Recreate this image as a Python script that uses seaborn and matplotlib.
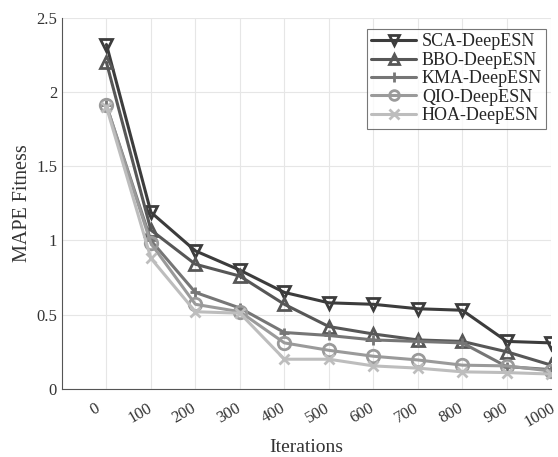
import numpy as np
import pandas as pd
import matplotlib
matplotlib.use("Agg")
import matplotlib.pyplot as plt
import matplotlib.transforms as mtransforms
import seaborn as sns

iterations = [0, 100, 200, 300, 400, 500, 600, 700, 800, 900, 1000]
x_labels = [str(v) for v in iterations]
series_names = ["SCA-DeepESN", "BBO-DeepESN", "KMA-DeepESN", "QIO-DeepESN", "HOA-DeepESN"]
sca = [2.32, 1.19, 0.93, 0.80, 0.65, 0.58, 0.57, 0.54, 0.53, 0.32, 0.31]
bbo = [2.20, 1.07, 0.84, 0.76, 0.57, 0.42, 0.37, 0.33, 0.32, 0.25, 0.16]
kma = [1.91, 1.00, 0.65, 0.545, 0.38, 0.36, 0.33, 0.32, 0.31, 0.15, 0.13]
qio = [1.91, 0.98, 0.57, 0.52, 0.31, 0.26, 0.22, 0.195, 0.16, 0.155, 0.12]
hoa = [1.90, 0.88, 0.52, 0.51, 0.20, 0.20, 0.155, 0.14, 0.115, 0.11, 0.10]

values = [sca, bbo, kma, qio, hoa]
colors = ["#3c3c3c", "#575757", "#767676", "#9a9a9a", "#bdbdbd"]
markers = ["v", "^", "+", "o", "x"]

df = pd.concat([
    pd.DataFrame({"Iterations": iterations, "MAPE": v, "Algorithm": n})
    for n, v in zip(series_names, values)
], ignore_index=True)

sns.set_theme(style="white")
plt.rcParams["font.family"] = ["Liberation Serif", "DejaVu Serif"]

fig = plt.figure(figsize=(5.58, 4.57), dpi=100)
ax = fig.add_axes([0.111, 0.149, 0.877, 0.812])

for name, c, m in zip(series_names, colors, markers):
    sub = df[df["Algorithm"] == name]
    sns.lineplot(data=sub, x="Iterations", y="MAPE", ax=ax, color=c, lw=2.2,
                 marker=m, markersize=9 if m not in ("+", "x") else 7,
                 markerfacecolor="none", markeredgecolor=c, markeredgewidth=2,
                 label=name)

ax.set_xlim(-100, 1000)
ax.set_ylim(0, 2.5)
ax.set_xticks(iterations)
ax.set_xticklabels(x_labels, rotation=30, fontsize=12)
ax.set_yticks([0, 0.5, 1, 1.5, 2, 2.5])
ax.set_yticklabels(["0", "0.5", "1", "1.5", "2", "2.5"], fontsize=12)
ax.tick_params(axis="x", pad=8, length=4, direction="in", color="#444444", colors="#333333")
ax.tick_params(axis="y", length=4, direction="in", color="#444444", colors="#333333")
offset = mtransforms.ScaledTranslation(-11 / 100, 0, fig.dpi_scale_trans)
for lbl in ax.xaxis.get_majorticklabels():
    lbl.set_transform(lbl.get_transform() + offset)
ax.set_xlabel("Iterations", fontsize=14, color="#333333", labelpad=6)
ax.set_ylabel("MAPE Fitness", fontsize=14.5, color="#333333", labelpad=3)
ax.grid(True, color="#e6e6e6", lw=0.8)
for s in ["top", "right"]:
    ax.spines[s].set_visible(False)
for s in ["left", "bottom"]:
    ax.spines[s].set_color("#555555")
    ax.spines[s].set_linewidth(0.8)

leg = ax.legend(loc="upper right", fontsize=13, frameon=True, fancybox=False,
                edgecolor="#555555", handlelength=2.5, borderpad=0.25,
                labelspacing=0.08, handletextpad=0.3, borderaxespad=0,
                bbox_to_anchor=(0.99, 0.97))
leg.get_frame().set_linewidth(0.8)
for h in leg.legend_handles:
    h.set_markersize(7)

fig.savefig("out.png", dpi=100)
